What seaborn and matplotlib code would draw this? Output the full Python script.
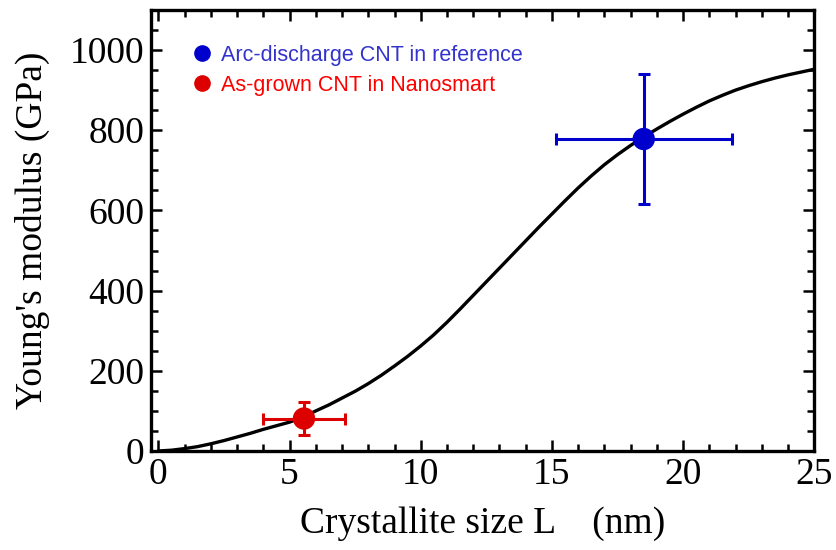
import matplotlib
matplotlib.use("Agg")
import matplotlib.pyplot as plt
from matplotlib.ticker import MultipleLocator
from matplotlib.lines import Line2D
import seaborn as sns
import pandas as pd

# Model curve
curve_L = [0, 0.5, 1, 1.5, 2, 2.5, 3, 3.5, 4, 4.5, 5, 5.5, 6, 6.5, 7, 7.5, 8, 8.5, 9, 9.5,
           10, 10.5, 11, 11.5, 12, 12.5, 13, 13.5, 14, 14.5, 15, 15.5, 16, 16.5, 17, 17.5,
           18, 18.5, 19, 19.5, 20, 20.5, 21, 21.5, 22, 22.5, 23, 23.5, 24, 24.5, 25]
curve_E = [0, 2, 6, 11, 18, 26, 35, 44, 54, 63, 72, 84, 100, 115, 132, 149, 168, 189, 212, 236,
           262, 290, 321, 354, 388, 422, 456, 490, 524, 558, 591, 624, 656, 686, 714, 739,
           762, 783, 803, 822, 840, 857, 873, 887, 900, 911, 921, 930, 938, 945, 952]

# Measured points
labels = ["Arc-discharge CNT in reference", "As-grown CNT in Nanosmart"]
pt_L = [18.5, 5.55]
pt_E = [778, 81]
pt_Lerr = [3.35, 1.58]
pt_Eerr = [163, 40]
marker_colors = ["#0000cc", "#dd0000"]
text_colors = ["#3333cc", "#ff0000"]

sns.set_theme(style="white")
plt.rcParams['font.family'] = ['Liberation Serif', 'DejaVu Serif']
plt.rcParams['text.color'] = 'black'
plt.rcParams['axes.labelcolor'] = 'black'
plt.rcParams['xtick.color'] = 'black'
plt.rcParams['ytick.color'] = 'black'

fig = plt.figure(figsize=(8.36, 5.5), dpi=100)
ax = fig.add_axes([0.181, 0.18, 0.793, 0.802])

curve = pd.DataFrame({"L": curve_L, "E": curve_E})
sns.lineplot(data=curve, x="L", y="E", ax=ax, color="black", linewidth=2.4, zorder=2)

for i in range(len(labels)):
    ax.errorbar(pt_L[i], pt_E[i], xerr=pt_Lerr[i], yerr=pt_Eerr[i], fmt="none",
                ecolor=marker_colors[i], elinewidth=2.2, capsize=4.5, capthick=2.2, zorder=3)

pts = pd.DataFrame({"L": pt_L, "E": pt_E, "src": labels})
sns.scatterplot(data=pts, x="L", y="E", hue="src", palette=marker_colors, s=260,
                edgecolor="none", ax=ax, zorder=4, legend=False)

ax.set_xlim(-0.27, 25)
ax.set_ylim(0, 1100)
ax.xaxis.set_major_locator(MultipleLocator(5))
ax.xaxis.set_minor_locator(MultipleLocator(1))
ax.yaxis.set_major_locator(MultipleLocator(200))
ax.yaxis.set_minor_locator(MultipleLocator(50))
ax.tick_params(which="both", direction="in", top=True, right=True, bottom=True, left=True,
               color="black", labelcolor="black", width=1.8, labelsize=27, pad=5)
ax.tick_params(which="major", length=8)
ax.tick_params(which="minor", length=5)
for s in ax.spines.values():
    s.set_color("black")
    s.set_linewidth(2.4)

ax.set_xlabel("Crystallite size L    (nm)", fontsize=27, labelpad=10, color="black")
ax.set_ylabel("Young's modulus (GPa)", fontsize=27, labelpad=14, color="black")

handles = [Line2D([], [], linestyle="none", marker="o", markersize=12,
                  markerfacecolor=c, markeredgecolor="none") for c in marker_colors]
leg = ax.legend(handles, labels, loc="upper left", bbox_to_anchor=(0.03, 0.965), frameon=False,
                prop={"family": "Liberation Sans", "size": 15.5}, handletextpad=0.3,
                labelspacing=0.42, handlelength=1.1)
for t, c in zip(leg.get_texts(), text_colors):
    t.set_color(c)

fig.savefig("out.png", dpi=100)
